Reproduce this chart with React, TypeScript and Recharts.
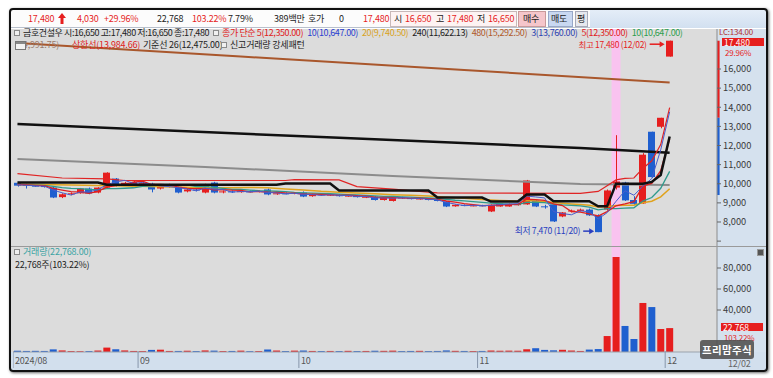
import React from 'react';
import { ComposedChart, Bar, Line, XAxis, YAxis, ReferenceArea, ReferenceDot, ReferenceLine, Cell } from 'recharts';

const RED = '#e61e1e';
const BLUE = '#1f5fcf';
const FONT = '"Noto Sans CJK KR", "Noto Sans", sans-serif';

const dates = ['08/12','08/13','08/14','08/16','08/19','08/20','08/21','08/22','08/23','08/26','08/27','08/28','08/29','08/30',
  '09/02','09/03','09/04','09/05','09/06','09/09','09/10','09/11','09/12','09/13','09/19','09/20','09/23','09/24','09/25','09/26','09/27','09/30',
  '10/02','10/04','10/07','10/08','10/10','10/11','10/14','10/15','10/16','10/17','10/18','10/21','10/22','10/23','10/24','10/25','10/28','10/29','10/30','10/31',
  '11/01','11/04','11/05','11/06','11/07','11/08','11/11','11/12','11/13','11/14','11/15','11/18','11/19','11/20','11/21','11/22','11/25','11/26','11/27','11/28','11/29',
  '12/02'];
const opens = [10050,9950,9900,9880,9800,9300,9450,9500,9750,9540,9800,10270,9950,9980,
  10000,10000,9750,9850,9850,9600,9700,9540,10060,9550,9600,9560,9600,9580,9700,9450,9500,9480,
  9540,9350,9450,9400,9430,9350,9380,9300,9330,9150,9100,9280,9250,9200,9230,9150,9070,8820,8900,8850,
  8870,8550,8810,8810,8880,8920,9120,8820,8920,8290,8550,8580,8650,8350,8650,9800,10060,9150,8970,12720,12980,
  16650];
const highs = [10100,10000,9950,9950,9850,9500,9550,9780,9800,9820,10600,10300,10100,10150,
  10100,10050,9950,10000,9900,9750,9750,10000,10100,9650,9650,9650,9650,9650,9750,9550,9550,9560,
  9600,9480,9500,9460,9450,9420,9400,9350,9350,9330,9300,9320,9280,9260,9250,9180,9100,8920,8920,8900,
  8900,8920,8990,8970,8980,10200,9150,8900,8950,8520,8650,8700,8700,8400,9700,12540,10100,9350,11600,12720,13450,
  17480];
const lows = [9850,9750,9850,9800,9250,9250,9400,9480,9450,9500,9780,9850,9900,9900,
  9950,9550,9700,9800,9500,9550,9600,9500,9500,9500,9520,9530,9550,9550,9400,9420,9450,9450,
  9300,9320,9380,9370,9330,9320,9280,9250,9120,9120,9070,9220,9180,9170,9130,9080,8780,8800,8830,8820,
  8820,8520,8800,8800,8860,8900,8780,8700,8000,8250,8500,8550,8320,7470,8600,9700,9100,8900,8950,10300,12900,
  16650];
const closes = [9900,9900,9880,9850,9280,9450,9500,9750,9490,9800,10580,9900,10050,10100,
  10050,9700,9900,9950,9540,9700,9650,9960,9540,9600,9560,9620,9580,9620,9440,9500,9480,9530,
  9330,9450,9400,9430,9350,9380,9300,9320,9150,9300,9280,9250,9200,9230,9150,9100,8810,8900,8850,8870,
  8850,8900,8970,8950,8950,10170,8810,8800,8030,8500,8600,8650,8350,7470,9650,10120,9130,8950,11520,10350,13450,
  17480];
const volumes = [1200,1000,1100,1000,2500,1500,900,800,900,1400,4200,2600,1500,1000,
  900,2000,2200,1000,1000,1200,900,1500,1300,900,1000,1300,800,900,2300,1400,900,1300,
  1400,1000,900,1000,900,1100,900,1000,1200,1100,1300,900,1000,1100,900,1000,1500,1100,1000,900,
  1000,1400,1200,1300,1200,2600,3600,2000,1600,2100,1400,1000,2300,2800,15200,90500,24800,12400,46700,42800,21900,
  22768];

const ma3 = [9950,9920,9893,9877,9670,9527,9410,9567,9580,9680,9957,10093,10177,10017,10067,9950,9883,9850,9797,9730,
  9630,9770,9717,9700,9567,9593,9587,9607,9547,9520,9473,9503,9447,9437,9393,9427,9393,9387,9343,9333,
  9257,9257,9243,9277,9243,9227,9193,9160,9020,8937,8853,8873,8857,8873,8907,8940,8957,9357,9310,9260,
  8547,8443,8377,8583,8533,8157,8490,9080,9633,9400,9867,10273,11773,13760];
const ma5 = [9960,9940,9920,9900,9762,9672,9592,9566,9494,9598,9824,9904,9964,10086,10136,9960,9960,9940,9828,9758,
  9748,9760,9678,9690,9662,9656,9580,9596,9564,9552,9524,9514,9456,9458,9438,9428,9392,9402,9372,9356,
  9300,9290,9270,9260,9236,9252,9222,9186,9098,9038,8962,8906,8856,8874,8888,8908,8924,9188,9170,9136,
  8952,8862,8548,8516,8426,8314,8544,8848,8944,9064,9874,10014,10680,12350];
const ma10 = [9950,9940,9930,9920,9860,9800,9760,9740,9700,9680,9748,9748,9765,9790,9867,9892,9932,9952,9957,9947,
  9854,9860,9809,9759,9710,9702,9670,9637,9627,9607,9590,9547,9526,9511,9495,9476,9453,9429,9415,9397,
  9364,9341,9336,9316,9296,9276,9256,9228,9179,9137,9107,9064,9021,8986,8963,8935,8915,9022,9022,9012,
  8930,8893,8868,8843,8781,8633,8703,8698,8730,8745,9094,9279,9764,10647];
const ma20Points: [number, number][] = [[0,9980],[6,9930],[12,9880],[19,9814],[20,9801],[22,9787],[24,9789],[26,9801],[28,9792],
  [30,9722],[32,9668],[34,9603],[36,9562],[38,9521],[40,9477],[42,9431],[44,9396],[46,9355],[48,9297],[50,9236],[52,9179],
  [53,9151],[54,9130],[55,9106],[56,9086],[57,9125],[58,9101],[59,9075],[60,9019],[61,8979],[62,8945],[63,8915],[64,8872],
  [65,8784],[66,8809],[67,8860],[68,8876],[69,8879],[70,9012],[71,9086],[72,9316],[73,9740]];
const ma120Points: [number, number][] = [[0,11294],[21,10876],[42,10405],[63,9987],[73,9940]];
const ma240Points: [number, number][] = [[0,13120],[36,12400],[63,11870],[73,11622]];
const ma480Points: [number, number][] = [[0,17360],[25,16650],[50,15950],[73,15290]];
const bollUpperPoints: [number, number][] = [[0,10530],[5,10300],[10,10250],[12,10170],[30,10170],[31,10220],[36,10200],[38,9850],
  [42,9720],[47,9520],[63,9500],[65,9600],[66,9900],[67,10200],[68,10280],[69,10300],[70,10800],[71,11200],[72,12050],[73,13985]];
const kijun = [10060,10060,10060,10060,10060,10060,10060,10060,10060,10060,
  9950,9950,9950,9950,9950,9950,9950,9950,9950,9950,9950,9950,9950,9950,9950,9950,9950,9950,9950,9950,
  10010,10010,10010,10010,10010,10010,
  9650,9650,9650,9650,9650,9650,9650,9650,9650,9650,9650,
  9280,9280,9280,9280,9280,9280,
  9070,9070,9070,9070,
  9440,9440,9440,
  9085,9085,9085,9085,9085,
  8820,8820,
  10005,10005,10005,10005,
  10095,10460,12475];

const priceTicks = [7000,8000,9000,10000,11000,12000,13000,14000,15000,16000];
const volumeTicks = [40000,60000,80000];
const monthTicks = [-0.5,13.5,31.5,51.5,72.5];
const monthLabels = ['2024/08','09','10','11','12'];
const limitUpIndex = 67;
const highMark = { i: 73, price: 17480, text: '최고 17,480 (12/02)' };
const lowMark = { i: 65, price: 7470, text: '최저 7,470 (11/20)' };
const dayRange = [{ from: 17480, to: 13450, color: RED }, { from: 13450, to: 9410, color: BLUE }];

const toMap = (pts: [number, number][]) => new Map(pts);
const m20 = toMap(ma20Points), m120 = toMap(ma120Points), m240 = toMap(ma240Points), m480 = toMap(ma480Points), mBoll = toMap(bollUpperPoints);

const rows = dates.map((d, i) => ({
  i, d, o: opens[i], h: highs[i], l: lows[i], c: closes[i], range: [lows[i], highs[i]], vol: volumes[i],
  ma3: ma3[i], ma5: ma5[i], ma10: ma10[i], ma20: m20.get(i) ?? null, ma120: m120.get(i) ?? null,
  ma240: m240.get(i) ?? null, ma480: m480.get(i) ?? null, boll: mBoll.get(i) ?? null, kijun: kijun[i],
}));

const colorOf = (o: number, c: number) => (c > o ? RED : c < o ? BLUE : '#7f93c0');

const Candle = (p: any) => {
  const { x, y, width, height, payload } = p;
  if (!payload || payload.o == null) return null;
  const { o, c, h, l } = payload;
  const span = h - l;
  const ppu = span > 0 ? height / span : 0;
  const top = y + (h - Math.max(o, c)) * ppu;
  const bot = y + (h - Math.min(o, c)) * ppu;
  const col = colorOf(o, c);
  const cx = Math.round(x + width / 2) + 0.5;
  return (
    <g>
      <line x1={cx} x2={cx} y1={y} y2={y + height} stroke={col} strokeWidth={1} />
      <rect x={Math.round(x)} y={top} width={Math.round(width)} height={Math.max(1, bot - top)} fill={col} />
    </g>
  );
};

const Arrow = ({ x1, x2, y, color }: any) => (
  <g>
    <line x1={x1} x2={x2 - 4} y1={y} y2={y} stroke={color} strokeWidth={1.5} />
    <polygon points={`${x2},${y} ${x2 - 5},${y - 3} ${x2 - 5},${y + 3}`} fill={color} />
  </g>
);

const HighLabel = (props: any) => {
  const vb = props.viewBox || {};
  const x = vb.x ?? 0, y = vb.y ?? 0;
  return (
    <g>
      <text x={x - 23} y={y + 7} textAnchor="end" fontSize={8.5} letterSpacing={-0.3} fill={RED} fontFamily={FONT}>{highMark.text}</text>
      <Arrow x1={x - 20} x2={x - 5} y={y + 3.5} color={RED} />
    </g>
  );
};
const LowLabel = (props: any) => {
  const vb = props.viewBox || {};
  const x = vb.x ?? 0, y = vb.y ?? 0;
  return (
    <g>
      <text x={x - 18} y={y + 2} textAnchor="end" fontSize={8.7} letterSpacing={-0.3} fill="#2a3fc0" fontFamily={FONT}>{lowMark.text}</text>
      <Arrow x1={x - 15} x2={x - 4} y={y - 1} color="#2a3fc0" />
    </g>
  );
};

const MonthTick = (p: any) => {
  const { x, y, payload } = p;
  const idx = monthTicks.indexOf(payload.value);
  return (
    <g>
      <line x1={x} x2={x} y1={y - 1} y2={y + 16} stroke="#8796ab" strokeWidth={1} />
      <text x={x + 2} y={y + 12} fontSize={9} fill="#555" fontFamily={FONT} letterSpacing={-0.2}>{monthLabels[idx]}</text>
    </g>
  );
};

const T = ({ l, t, c = '#222', s = 9, children, lh = 12 }: any) => (
  <div style={{ position: 'absolute', left: l, top: t, color: c, fontSize: s, lineHeight: `${lh}px`, whiteSpace: 'nowrap', letterSpacing: -0.2 }}>{children}</div>
);
const Sq = () => (
  <span style={{ display: 'inline-block', width: 4, height: 4, border: '1px solid #8a8a8a', background: '#f0f0f0', marginRight: 3, verticalAlign: 'middle', position: 'relative', top: -1 }} />
);

const X_DOMAIN = [-0.5, 78.3];
const axisTick = { fontSize: 9.3, fill: '#3a3a3a', fontFamily: FONT };

export default function App() {
  const legend1 = [
    { t: '금호건설우 시:16,650 고:17,480 저:16,650 종:17,480', c: '#222', b: true },
    { t: '종가 단순 5(12,350.00)', c: '#e02020', b: true },
    { t: '10(10,647.00)', c: '#2b3fd0' },
    { t: '20(9,740.50)', c: '#d9a21b' },
    { t: '240(11,622.13)', c: '#222' },
    { t: '480(15,292.50)', c: '#b0582a' },
    { t: '3(13,760.00)', c: '#2b3fb0' },
    { t: '5(12,350.00)', c: '#e02020' },
    { t: '10(10,647.00)', c: '#2e9e4e' },
  ];
  return (
    <div style={{ position: 'absolute', left: 0, top: 0, width: 773, height: 378, background: '#fff', fontFamily: FONT, overflow: 'hidden' }}>
      <div style={{ position: 'absolute', left: 11, top: 29, width: 706, height: 323, background: '#dcdcdc' }} />
      <div style={{ position: 'absolute', left: 717, top: 29, width: 49, height: 323, background: '#d5e1ee' }} />
      <div style={{ position: 'absolute', left: 11, top: 352, width: 755, height: 18, background: '#d2dfed' }} />

      <div style={{ position: 'absolute', left: 13, top: 29 }}>
        <ComposedChart width={750} height={217} data={rows} margin={{ top: 0, right: 0, bottom: 0, left: 0 }}>
          <XAxis dataKey="i" type="number" domain={X_DOMAIN} hide allowDataOverflow />
          <YAxis orientation="right" width={46} domain={[6745, 18092]} allowDataOverflow ticks={priceTicks}
            tickFormatter={(v: number) => (v === 7000 ? '' : v.toLocaleString('en-US'))} tick={axisTick}
            tickSize={4} tickMargin={2} axisLine={{ stroke: '#8c8c8c' }} tickLine={{ stroke: '#666' }} />
          <ReferenceArea x1={limitUpIndex - 0.5} x2={limitUpIndex + 0.5} fill="#f9c3f0" fillOpacity={1} stroke="none" />
          <Line dataKey="ma480" stroke="#a9572c" strokeWidth={2} dot={false} activeDot={false} connectNulls isAnimationActive={false} />
          <Line dataKey="ma240" stroke="#111" strokeWidth={2.5} dot={false} activeDot={false} connectNulls isAnimationActive={false} />
          <Line dataKey="ma120" stroke="#8c8c8c" strokeWidth={2} dot={false} activeDot={false} connectNulls isAnimationActive={false} />
          <Line dataKey="boll" stroke="#e02424" strokeWidth={1.2} dot={false} activeDot={false} connectNulls isAnimationActive={false} />
          <Line dataKey="ma20" stroke="#e0a21c" strokeWidth={1.5} dot={false} activeDot={false} connectNulls isAnimationActive={false} />
          <Line dataKey="ma10" stroke="#2f9a8c" strokeWidth={1.3} dot={false} activeDot={false} isAnimationActive={false} />
          <Line dataKey="ma5" stroke="#e02020" strokeWidth={1.3} dot={false} activeDot={false} isAnimationActive={false} />
          <Line dataKey="ma3" stroke="#4a5ccc" strokeWidth={1} dot={false} activeDot={false} isAnimationActive={false} />
          <Line dataKey="kijun" stroke="#111" strokeWidth={2.5} dot={false} activeDot={false} isAnimationActive={false} />
          <Bar dataKey="range" barSize={7} shape={<Candle />} isAnimationActive={false} />
          {dayRange.map((r, k) => (
            <ReferenceLine key={k} segment={[{ x: 78.45, y: r.from }, { x: 78.45, y: r.to }]} stroke={r.color} strokeWidth={2.5} ifOverflow="visible" />
          ))}
          <ReferenceDot x={highMark.i} y={highMark.price} r={0} fill="none" stroke="none" ifOverflow="visible" label={(p: any) => <HighLabel {...p} />} />
          <ReferenceDot x={lowMark.i} y={lowMark.price} r={0} fill="none" stroke="none" ifOverflow="visible" label={(p: any) => <LowLabel {...p} />} />
        </ComposedChart>
      </div>

      <div style={{ position: 'absolute', left: 13, top: 247 }}>
        <ComposedChart width={750} height={122} data={rows} margin={{ top: 0, right: 0, bottom: 0, left: 0 }}>
          <XAxis dataKey="i" type="number" domain={X_DOMAIN} allowDataOverflow ticks={monthTicks} interval={0}
            height={17} tickLine={false} axisLine={{ stroke: '#9aa3ad' }} tickSize={0} tickMargin={0} tick={<MonthTick />} />
          <YAxis orientation="right" width={46} domain={[0, 100000]} allowDataOverflow ticks={volumeTicks}
            tickFormatter={(v: number) => v.toLocaleString('en-US')} tick={axisTick}
            tickSize={4} tickMargin={2} axisLine={{ stroke: '#8c8c8c' }} tickLine={{ stroke: '#666' }} />
          <ReferenceArea x1={limitUpIndex - 0.5} x2={limitUpIndex + 0.5} fill="#f9c3f0" fillOpacity={1} stroke="none" />
          <Bar dataKey="vol" barSize={7} isAnimationActive={false}>
            {rows.map((r, k) => <Cell key={k} fill={colorOf(r.o, r.c)} />)}
          </Bar>
        </ComposedChart>
      </div>

      <div style={{ position: 'absolute', left: 11, top: 246, width: 755, height: 1, background: '#9a9a9a' }} />

      {/* header */}
      <div style={{ position: 'absolute', left: 11, top: 10, width: 755, height: 18, background: '#fcfcfc', borderBottom: '1px solid #b8c0cc', boxSizing: 'border-box' }} />
      <div style={{ position: 'absolute', left: 390, top: 11, width: 127, height: 16, background: '#fdf3f3', border: '1px solid #c8b8b8', boxSizing: 'border-box' }} />
      <div style={{ position: 'absolute', left: 518, top: 11, width: 28, height: 16, background: '#f5c6cb', border: '1px solid #c99a9a', boxSizing: 'border-box' }} />
      <div style={{ position: 'absolute', left: 548, top: 11, width: 25, height: 16, background: '#c9d8f1', border: '1px solid #97a8c8', boxSizing: 'border-box' }} />
      <div style={{ position: 'absolute', left: 575, top: 11, width: 13, height: 16, background: '#e6e8ee', border: '1px solid #a8aab8', boxSizing: 'border-box' }} />
      <div style={{ position: 'absolute', left: 590, top: 10, width: 176, height: 18, background: 'linear-gradient(#e4edf8, #d2e0f0)' }} />
      <T l={28} t={13} c={RED}>17,480</T>
      <svg style={{ position: 'absolute', left: 58, top: 13 }} width={8} height={11}><polygon points="4,0 8,5 5.5,5 5.5,11 2.5,11 2.5,5 0,5" fill={RED} /></svg>
      <T l={77} t={13} c={RED}>4,030</T>
      <T l={104} t={13} c={RED}>+29.96%</T>
      <T l={157} t={13}>22,768</T>
      <T l={192} t={13} c={RED}>103.22%</T>
      <T l={228} t={13}>7.79%</T>
      <T l={274} t={13}>389백만</T>
      <T l={308} t={13}>호가</T>
      <T l={339} t={13}>0</T>
      <T l={363} t={13} c={RED}>17,480</T>
      <T l={394} t={13}>시</T>
      <T l={405} t={13} c={RED}>16,650</T>
      <T l={436} t={13}>고</T>
      <T l={447} t={13} c={RED}>17,480</T>
      <T l={477} t={13}>저</T>
      <T l={488} t={13} c={RED}>16,650</T>
      <T l={523} t={13}>매수</T>
      <T l={551} t={13}>매도</T>
      <T l={577} t={13}>평</T>

      {/* legends */}
      <div style={{ position: 'absolute', left: 14, top: 28, display: 'flex', gap: 4, fontSize: 9, lineHeight: '9px', whiteSpace: 'nowrap', letterSpacing: -0.4 }}>
        {legend1.map((it, k) => (
          <span key={k} style={{ color: it.c }}>{it.b ? <Sq /> : null}{it.t}</span>
        ))}
      </div>
      <T l={20} t={40} c="#9a7a6a" lh={10}>(4,991.75)</T>
      <div style={{ position: 'absolute', left: 15, top: 41, width: 9, height: 7, border: '1px solid #777', background: '#f2f2f2' }}>
        <div style={{ height: 2, background: '#888' }} />
      </div>
      <T l={72} t={40} c="#e02020" lh={10}>상한선(13,984.66)</T>
      <T l={143} t={40} c="#222" lh={10}>기준선 26(12,475.00)</T>
      <div style={{ position: 'absolute', left: 221, top: 40, fontSize: 9, lineHeight: '10px', color: '#222', whiteSpace: 'nowrap', letterSpacing: -0.2 }}><Sq />신고거래량 강세패턴</div>

      <div style={{ position: 'absolute', left: 14, top: 247, fontSize: 9, lineHeight: '9px', color: '#3aa3a3', whiteSpace: 'nowrap', letterSpacing: -0.2 }}><Sq />거래량(22,768.00)</div>
      <T l={15} t={260} lh={9}>22,768주(103.22%)</T>

      {/* right axis overlays */}
      <T l={719} t={28} c="#b03030" s={8} lh={8}>LC:134.00</T>
      <div style={{ position: 'absolute', left: 722, top: 38, width: 42, height: 8, background: RED, color: '#fff', fontSize: 8.5, lineHeight: '8px', paddingLeft: 2, boxSizing: 'border-box' }}>17,480</div>
      <T l={725} t={49} c={RED} s={8} lh={8}>29.96%</T>
      <div style={{ position: 'absolute', left: 721, top: 323, width: 42, height: 8, background: RED, color: '#fff', fontSize: 8.5, lineHeight: '8px', paddingLeft: 2, boxSizing: 'border-box' }}>22,768</div>
      <T l={724} t={334} c={RED} s={8} lh={8}>103.22%</T>
      <div style={{ position: 'absolute', left: 757, top: 249, width: 5, height: 5, background: '#555', border: '1px solid #999' }} />
      <T l={728} t={360} c="#666" lh={8}>12/02</T>
      <div style={{ position: 'absolute', left: 700, top: 340, width: 54, height: 19, background: 'rgba(80,80,80,0.88)', borderRadius: 3, color: '#fff', fontSize: 10.5, fontWeight: 700, lineHeight: '19px', textAlign: 'center', letterSpacing: 0.3 }}>프리맘주식</div>

      <div style={{ position: 'absolute', left: 9, top: 8, width: 755, height: 360, border: '2px solid #111', borderRadius: 4, boxShadow: '1px 1px 3px rgba(0,0,0,0.6)' }} />
    </div>
  );
}
